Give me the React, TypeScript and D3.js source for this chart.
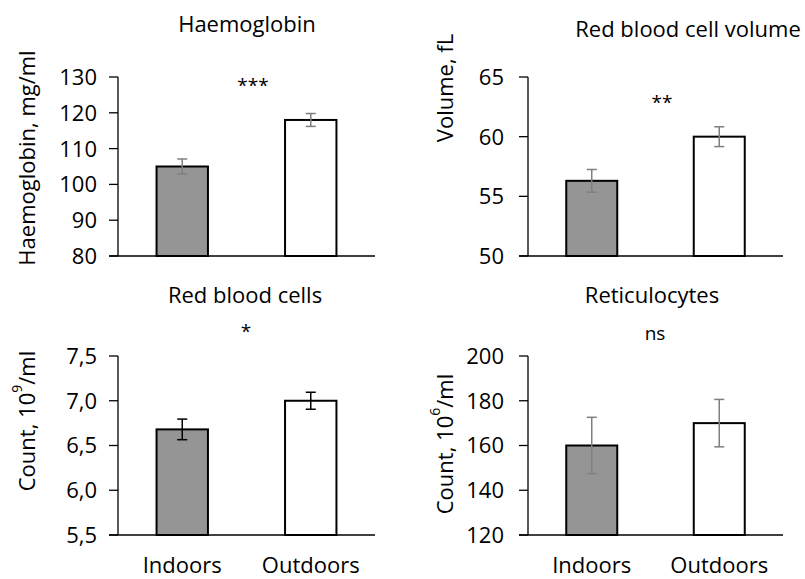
import React from "react";
import * as d3 from "d3";

const groups = ["Indoors", "Outdoors"];

const titles = ["Haemoglobin", "Red blood cell volume", "Red blood cells", "Reticulocytes"];
const significance = ["***", "**", "*", "ns"];

const haemoglobinMean = [105, 118];
const haemoglobinErr = [2.1, 1.8];
const haemoglobinTicks = [80, 90, 100, 110, 120, 130];

const volumeMean = [56.3, 60.0];
const volumeErr = [0.95, 0.83];
const volumeTicks = [50, 55, 60, 65];

const rbcMean = [6.68, 7.0];
const rbcErr = [0.115, 0.095];
const rbcTicks = [5.5, 6.0, 6.5, 7.0, 7.5];

const reticMean = [160, 170];
const reticErr = [12.6, 10.6];
const reticTicks = [120, 140, 160, 180, 200];

const FONT = "'Open Sans', 'Noto Sans', sans-serif";
const FS = 22;

type Layout = {
  axisX: number; top: number; bottom: number; right: number;
  titleX: number; titleY: number; sigX: number; sigY: number;
  ylabX: number; ylabY: number; tickGap: number; showX: boolean;
};

const layouts: Layout[] = [
  { axisX: 118, top: 77, bottom: 256, right: 375, titleX: 247, titleY: 32, sigX: 253, sigY: 92, ylabX: 26, ylabY: 158, tickGap: 21, showX: false },
  { axisX: 528, top: 77, bottom: 256, right: 783, titleX: 688, titleY: 37, sigX: 662, sigY: 109, ylabX: 444, ylabY: 88, tickGap: 24, showX: false },
  { axisX: 118, top: 356, bottom: 535, right: 375, titleX: 245, titleY: 303, sigX: 246, sigY: 338, ylabX: 26, ylabY: 421, tickGap: 21, showX: true },
  { axisX: 528, top: 356, bottom: 535, right: 783, titleX: 652, titleY: 303, sigX: 655, sigY: 340, ylabX: 444, ylabY: 444, tickGap: 24, showX: true },
];

const fmtInt = (v: number) => d3.format("d")(v);
const fmtComma = (v: number) => d3.format(".1f")(v).replace(".", ",");

function YLabel({ parts, sup, x, y }: { parts: string[]; sup?: string; x: number; y: number }) {
  return (
    <text
      transform={`translate(${x},${y}) rotate(-90)`}
      textAnchor="middle"
      dominantBaseline="central"
      fontSize={FS}
      fontFamily={FONT}
      fill="#000"
    >
      {sup ? (
        <>
          {parts[0]}
          <tspan baselineShift="super" fontSize={14}>{sup}</tspan>
          {parts[1]}
        </>
      ) : (
        parts[0]
      )}
    </text>
  );
}

function Panel({
  layout, means, errs, ticks, fmt, errColor, title, sig, ylabel,
}: {
  layout: Layout; means: number[]; errs: number[]; ticks: number[];
  fmt: (v: number) => string; errColor: string; title: string; sig: string;
  ylabel: React.ReactNode;
}) {
  const y = d3.scaleLinear().domain([ticks[0], ticks[ticks.length - 1]]).range([layout.bottom, layout.top]);
  const x = d3.scaleBand<string>().domain(groups).range([layout.axisX, layout.right]).paddingInner(0.6).paddingOuter(0.3);
  const fills = ["#959595", "#ffffff"];
  const capW = 10;
  return (
    <g>
      <text x={layout.titleX} y={layout.titleY} textAnchor="middle" fontSize={FS} fontFamily={FONT} fill="#000">{title}</text>
      <text x={layout.sigX} y={layout.sigY} textAnchor="middle" fontSize={19} fontFamily={FONT} fill="#000">{sig}</text>
      {ylabel}
      {groups.map((g, i) => (
        <rect key={g} x={x(g)!} y={y(means[i])} width={x.bandwidth()} height={layout.bottom - y(means[i])}
          fill={fills[i]} stroke="#000" strokeWidth={2} />
      ))}
      {groups.map((g, i) => {
        const cx = x(g)! + x.bandwidth() / 2;
        const y1 = y(means[i] + errs[i]);
        const y2 = y(means[i] - errs[i]);
        return (
          <g key={g} stroke={errColor} strokeWidth={1.5}>
            <line x1={cx} x2={cx} y1={y1} y2={y2} />
            <line x1={cx - capW / 2} x2={cx + capW / 2} y1={y1} y2={y1} />
            <line x1={cx - capW / 2} x2={cx + capW / 2} y1={y2} y2={y2} />
          </g>
        );
      })}
      <line x1={layout.axisX} x2={layout.axisX} y1={layout.top} y2={layout.bottom} stroke="#000" strokeWidth={1.3} />
      <line x1={layout.axisX - 9} x2={layout.right} y1={layout.bottom} y2={layout.bottom} stroke="#000" strokeWidth={1.3} />
      {ticks.map((t) => (
        <g key={t}>
          <line x1={layout.axisX - 9} x2={layout.axisX} y1={y(t)} y2={y(t)} stroke="#000" strokeWidth={1.3} />
          <text x={layout.axisX - layout.tickGap} y={y(t)} dy="0.36em" textAnchor="end" fontSize={FS} fontFamily={FONT} fill="#000">{fmt(t)}</text>
        </g>
      ))}
      {layout.showX && groups.map((g) => (
        <text key={g} x={x(g)! + x.bandwidth() / 2} y={573} textAnchor="middle" fontSize={FS} fontFamily={FONT} fill="#000">{g}</text>
      ))}
    </g>
  );
}

export default function App() {
  return (
    <svg width={805} height={579} style={{ position: "absolute", left: 0, top: 0, background: "#fff" }}>
      <rect width={805} height={579} fill="#fff" />
      <Panel layout={layouts[0]} means={haemoglobinMean} errs={haemoglobinErr} ticks={haemoglobinTicks} fmt={fmtInt}
        errColor="#7f7f7f" title={titles[0]} sig={significance[0]}
        ylabel={<YLabel parts={["Haemoglobin, mg/ml"]} x={layouts[0].ylabX} y={layouts[0].ylabY} />} />
      <Panel layout={layouts[1]} means={volumeMean} errs={volumeErr} ticks={volumeTicks} fmt={fmtInt}
        errColor="#7f7f7f" title={titles[1]} sig={significance[1]}
        ylabel={<YLabel parts={["Volume, fL"]} x={layouts[1].ylabX} y={layouts[1].ylabY} />} />
      <Panel layout={layouts[2]} means={rbcMean} errs={rbcErr} ticks={rbcTicks} fmt={fmtComma}
        errColor="#000000" title={titles[2]} sig={significance[2]}
        ylabel={<YLabel parts={["Count, 10", "/ml"]} sup="9" x={layouts[2].ylabX} y={layouts[2].ylabY} />} />
      <Panel layout={layouts[3]} means={reticMean} errs={reticErr} ticks={reticTicks} fmt={fmtInt}
        errColor="#7f7f7f" title={titles[3]} sig={significance[3]}
        ylabel={<YLabel parts={["Count, 10", "/ml"]} sup="6" x={layouts[3].ylabX} y={layouts[3].ylabY} />} />
    </svg>
  );
}
